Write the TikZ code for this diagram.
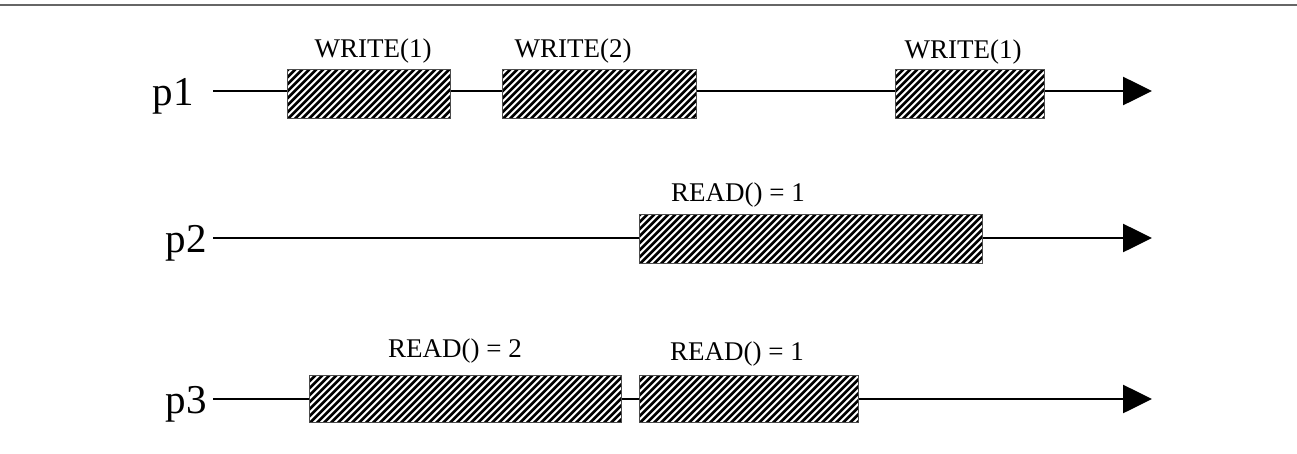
\documentclass[tikz,border=0pt]{standalone}
\usepackage{fontspec}
\setmainfont{Liberation Serif}
\usetikzlibrary{arrows.meta}
\tikzset{
  timeline/.style={line width=2.6pt, -{Triangle[length=29pt,width=28pt]}},
  hbox/.style={draw=black!70, line width=0.8pt, fill=white, anchor=north west,
    inner sep=0pt, minimum height=49pt,
    path picture={
      \foreach \k in {0,7,...,420} {
        \draw[draw=black, line width=2.6pt, line cap=butt]
          ([xshift=\k pt-60pt, yshift=-5pt]path picture bounding box.south west) -- ++(70pt,70pt);
      }
    }},
  oplabel/.style={font=\fontsize{27}{30}\selectfont, anchor=base},
  plabel/.style={font=\fontsize{41}{44}\selectfont, anchor=base west}
}
\begin{document}
\begin{tikzpicture}[x=1pt,y=-1pt]
\useasboundingbox (0,0) rectangle (1297,453);
\coordinate (tl) at (0,5);
\coordinate (tr) at (1297,5);
\draw[black!60, line width=2pt] (tl) -- (tr);

% process labels
\node[plabel] (p1) at (149,105) {p1};
\node[plabel] (p2) at (162,252) {p2};
\node[plabel] (p3) at (162,413) {p3};

% timelines
\coordinate (s1) at (213,91);  \coordinate (e1) at (1152,91);
\coordinate (s2) at (213,238); \coordinate (e2) at (1152,238);
\coordinate (s3) at (213,399); \coordinate (e3) at (1152,399);
\draw[timeline] (s1) -- (e1);
\draw[timeline] (s2) -- (e2);
\draw[timeline] (s3) -- (e3);

% p1 operations
\node[hbox, minimum width=163pt] (w1) at (287,69) {};
\node[hbox, minimum width=194pt] (w2) at (502,69) {};
\node[hbox, minimum width=149pt] (w3) at (895,69) {};
\node[oplabel] (lw1) at (373,57) {WRITE(1)};
\node[oplabel] (lw2) at (573,57) {WRITE(2)};
\node[oplabel] (lw3) at (963,58) {WRITE(1)};

% p2 operations
\node[hbox, minimum width=343pt] (r1) at (639,214) {};
\node[oplabel] (lr1) at (738,201) {READ() = 1};

% p3 operations
\node[hbox, minimum width=312pt, minimum height=47pt] (r2) at (309,375) {};
\node[hbox, minimum width=219pt, minimum height=47pt] (r3) at (639,375) {};
\node[oplabel] (lr2) at (455,357) {READ() = 2};
\node[oplabel] (lr3) at (737,360) {READ() = 1};
\end{tikzpicture}
\end{document}
